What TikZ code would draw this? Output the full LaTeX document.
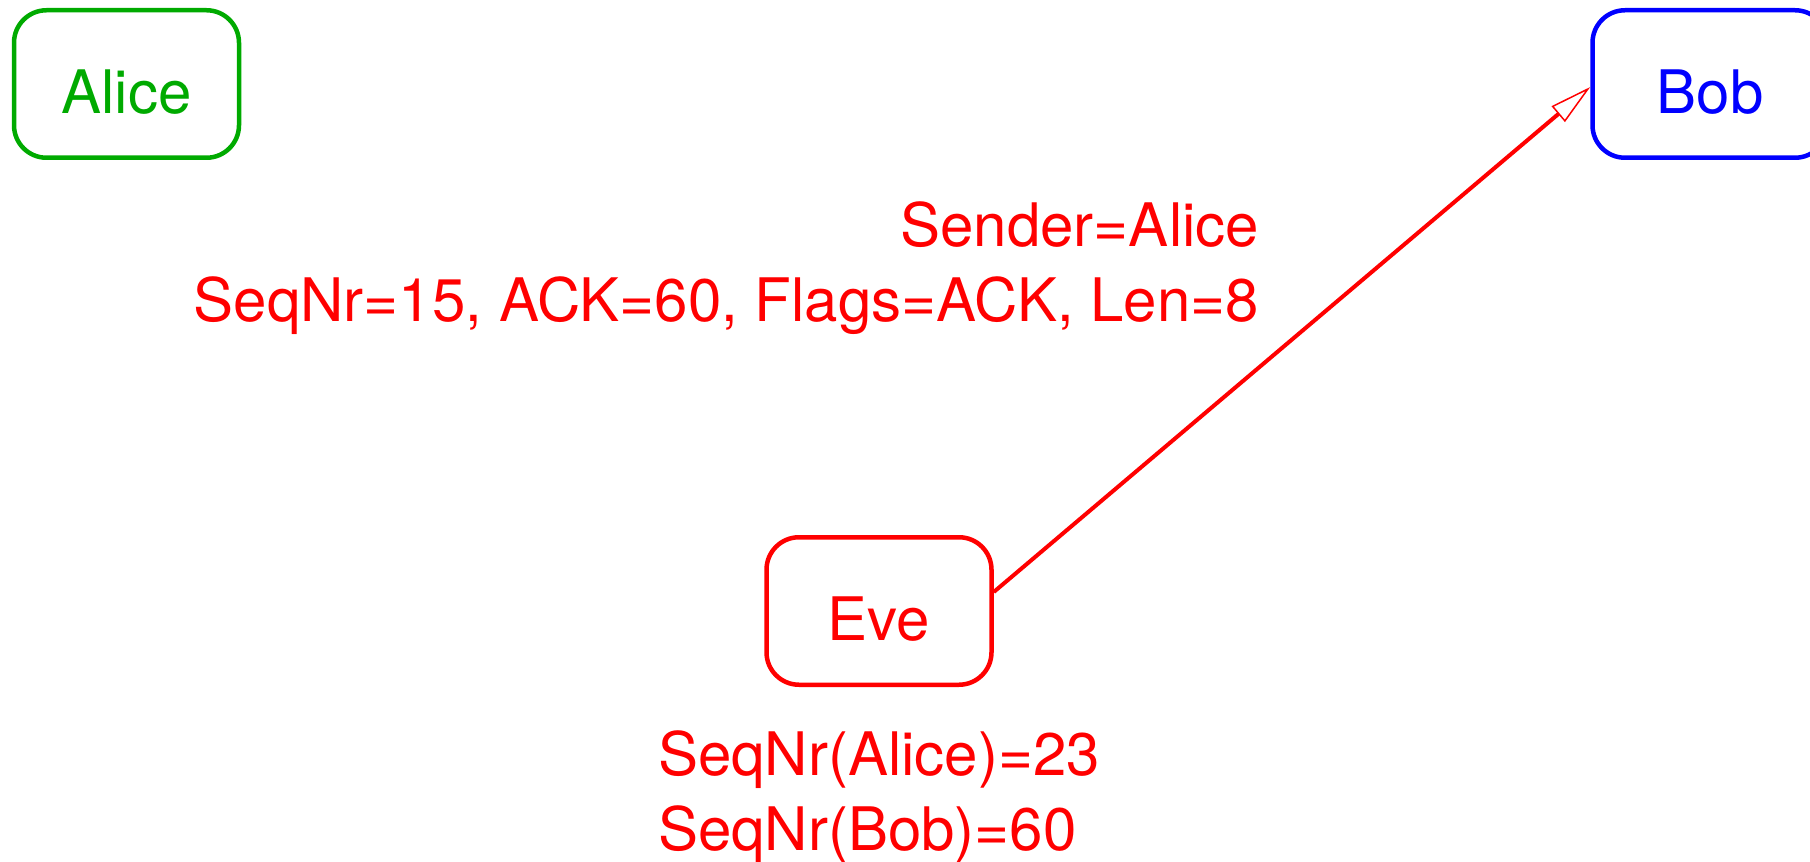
\documentclass[tikz,border=0pt]{standalone}
\usepackage{fontspec}
\setmainfont{TeX Gyre Heros}
\usetikzlibrary{positioning,arrows.meta}
\definecolor{alicegreen}{HTML}{00AA00}
\definecolor{bobblue}{HTML}{0000FF}
\definecolor{evered}{HTML}{FF0000}

\begin{document}
\begin{tikzpicture}[
  party/.style={draw, line width=0.09cm, rounded corners=0.65cm,
    minimum width=4.5cm, minimum height=2.95cm,
    text height=1.4cm, text depth=0.22cm, inner sep=0pt},
  big/.style={font=\fontsize{34.14pt}{42.68pt}\selectfont},
]
% Canvas
\useasboundingbox (0,0) rectangle (36.2,-17.24);

% Parties
\node[party, big, alicegreen] (alice) at (2.53,-1.68) {Alice};
\node[party, big, bobblue, minimum width=4.7cm] (bob) at (34.2,-1.68) {Bob};
\node[party, big, evered] (eve) at (17.58,-12.22) {Eve};

% What Eve knows
\node[big, evered, align=left, inner sep=0pt, below=0.86cm of eve] (evestate)
  {SeqNr(Alice)=23\\SeqNr(Bob)=60};

% Forged packet
\draw[evered, line width=0.08cm,
  -{Triangle[open, length=0.84cm, width=0.41cm, line width=0.03cm]}]
  ([yshift=0.38cm]eve.east) --
  node[big, align=right, anchor=south east, inner sep=0pt,
    xshift=-0.62cm, yshift=0.05cm] (packet)
  {Sender=Alice\\SeqNr=15, ACK=60, Flags=ACK, Len=8}
  ([yshift=-0.06cm]bob.west);
\end{tikzpicture}
\end{document}
